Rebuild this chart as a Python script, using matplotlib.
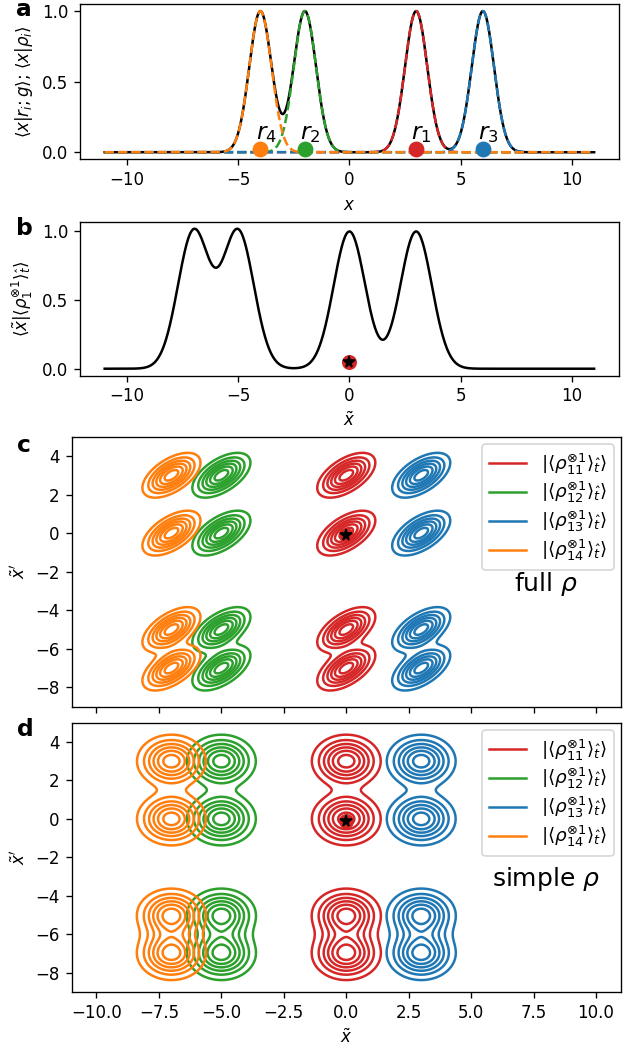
import numpy as np
import matplotlib.pyplot as plt
from matplotlib.lines import Line2D

# positions of the reference states r_1..r_4 (panel a)
r_pos = [3, -2, 6, -4]
r_names = ['$r_1$', '$r_2$', '$r_3$', '$r_4$']
colors = ['tab:red', 'tab:green', 'tab:blue', 'tab:orange']
sigma_a = 0.5       # width of <x|r_i;g>
sigma_b = 0.7071    # width in the relative coordinate x~
# full rho: quadratic form  A u^2 + A v^2 - 2 B u v
A_full = 2.05
B_full = 1.15
levels = [0.15, 0.3, 0.45, 0.6, 0.75, 0.9]
leg_labels = [r'$|\langle\rho^{\otimes 1}_{11}\rangle_{\hat{t}}\rangle$',
              r'$|\langle\rho^{\otimes 1}_{12}\rangle_{\hat{t}}\rangle$',
              r'$|\langle\rho^{\otimes 1}_{13}\rangle_{\hat{t}}\rangle$',
              r'$|\langle\rho^{\otimes 1}_{14}\rangle_{\hat{t}}\rangle$']
star_b = (0, 0.05)
star_cd = (0, -0.1)

rel = [r - r_pos[0] for r in r_pos]  # centres relative to r_1

fig = plt.figure(figsize=(638 / 120, 1048 / 120), dpi=120)
ax_a = fig.add_axes([0.1257, 0.848, 0.8439, 0.1482])
ax_b = fig.add_axes([0.1257, 0.6415, 0.8439, 0.1469])
ax_c = fig.add_axes([0.1121, 0.3257, 0.8613, 0.2576])
ax_d = fig.add_axes([0.1121, 0.0534, 0.8613, 0.2570], sharex=ax_c)

# ---- a
x = np.linspace(-11, 11, 1000)
g = [np.exp(-(x - r) ** 2 / (2 * sigma_a ** 2)) for r in r_pos]
ax_a.plot(x, np.sum(g, axis=0), 'k-')
for gi, c in zip(g, colors):
    ax_a.plot(x, gi, '--', color=c)
for r, c, nm in zip(r_pos, colors, r_names):
    ax_a.plot(r, 0.02, 'o', color=c, ms=8.5)
    ax_a.text(r - 0.22, 0.09, nm, fontsize=14, ha='left', va='baseline')
ax_a.set_xlabel('$x$')
ax_a.set_ylabel(r'$\langle x|r_i;g\rangle$; $\langle x|\rho_i\rangle$')

# ---- b
gb = [np.exp(-(x - d) ** 2 / (2 * sigma_b ** 2)) for d in rel]
ax_b.plot(x, np.sum(gb, axis=0), 'k-')
ax_b.plot(*star_b, 'o', color='tab:red', ms=8)
ax_b.plot(*star_b, 'k*', ms=7)
ax_b.set_xlabel(r'$\tilde{x}$')
ax_b.set_ylabel(r'$\langle\tilde{x}|\langle\rho^{\otimes 1}_1\rangle_{\hat{t}}\rangle$')

# ---- c, d
X, Y = np.meshgrid(np.linspace(-11, 11, 500), np.linspace(-9, 5, 400))
for i, c in enumerate(colors):
    u = X - rel[i]
    zc = np.zeros_like(X)
    zd = np.zeros_like(X)
    for dj in rel:
        v = Y - dj
        zc += np.exp(-(A_full * u ** 2 + A_full * v ** 2 - 2 * B_full * u * v))
        zd += np.exp(-v ** 2 / (2 * sigma_b ** 2))
    zd *= np.exp(-u ** 2 / (2 * sigma_b ** 2))
    ax_c.contour(X, Y, zc, levels=levels, colors=c)
    ax_d.contour(X, Y, zd, levels=levels, colors=c)

handles = [Line2D([], [], color=c) for c in colors]
for ax, txt, ty in [(ax_c, r'full $\rho$', -3.0), (ax_d, r'simple $\rho$', -3.5)]:
    ax.plot(*star_cd, 'o', color='tab:red', ms=8)
    ax.plot(*star_cd, 'k*', ms=7)
    ax.legend(handles, leg_labels, loc='upper right', fontsize=11,
              labelspacing=0.2, borderaxespad=0.4)
    ax.text(8, ty, txt, fontsize=15, ha='center', va='baseline')
    ax.set_ylabel(r"$\tilde{x}'$")
plt.setp(ax_c.get_xticklabels(), visible=False)
ax_d.set_xlabel(r'$\tilde{x}$')

for lab, xx, yy in [('a', 0.025, 0.9845), ('b', 0.025, 0.7758),
                    ('c', 0.026, 0.5687), ('d', 0.026, 0.2977)]:
    fig.text(xx, yy, lab, fontsize=14, fontweight='bold', va='baseline')

fig.savefig('out.png', dpi=120)
